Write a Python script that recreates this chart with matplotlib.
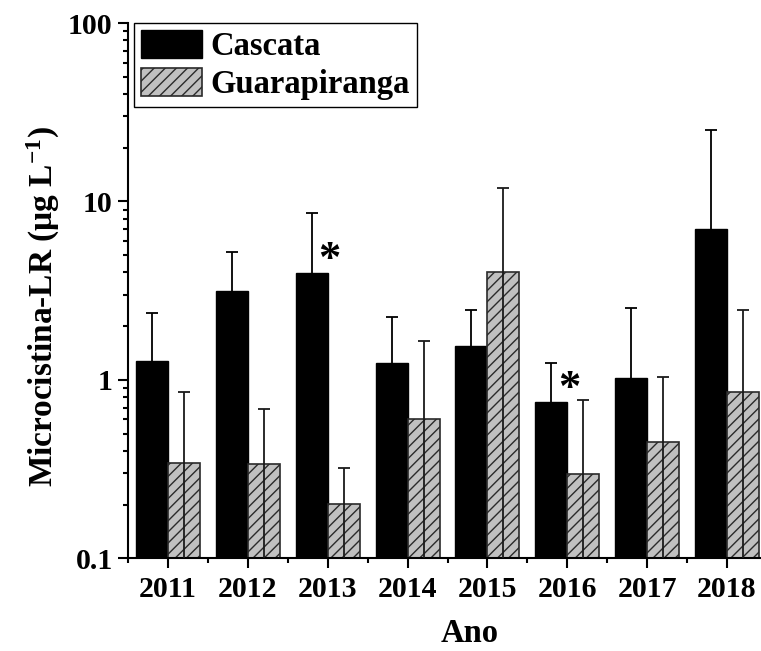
import numpy as np
import matplotlib
matplotlib.use('Agg')
import matplotlib.pyplot as plt
from matplotlib.ticker import LogLocator, FixedLocator, NullFormatter

plt.rcParams['font.family'] = ['Liberation Serif', 'DejaVu Serif']
plt.rcParams['font.weight'] = 'bold'
plt.rcParams['mathtext.default'] = 'regular'
plt.rcParams['hatch.linewidth'] = 1.0

years = [2011, 2012, 2013, 2014, 2015, 2016, 2017, 2018]
cascata = [1.27, 3.16, 3.97, 1.24, 1.55, 0.755, 1.02, 6.98]
cascata_top = [2.36, 5.23, 8.65, 2.26, 2.46, 1.24, 2.54, 25.2]
guara = [0.342, 0.336, 0.201, 0.60, 4.03, 0.298, 0.45, 0.86]
guara_top = [0.85, 0.687, 0.321, 1.66, 11.86, 0.774, 1.034, 2.475]
marked_years = [2013, 2016]

x = np.array(years, dtype=float)
cascata = np.array(cascata)
guara = np.array(guara)
# symmetric SD; lower end floored so it stays on the log axis (below 0.1 is clipped)
c_sd = np.array(cascata_top) - cascata
g_sd = np.array(guara_top) - guara
c_low = cascata - np.maximum(cascata - c_sd, 0.01)
g_low = guara - np.maximum(guara - g_sd, 0.01)

W, H = 761, 651
fig = plt.figure(figsize=(W / 100, H / 100), dpi=100)
ax = fig.add_axes([128 / W, (H - 558.3) / H, 639 / W, 535.3 / H])

w = 0.4
ax.bar(x - w / 2, cascata, w, color='black', edgecolor='black', linewidth=1.0,
       label='Cascata', zorder=2)
ax.bar(x + w / 2, guara, w, color='#c0c0c0', edgecolor='#2a2a2a', linewidth=1.2,
       hatch='///', label='Guarapiranga', zorder=2)
ax.errorbar(x - w / 2, cascata, yerr=[c_low, c_sd], fmt='none', ecolor='black',
            elinewidth=1.3, capsize=4, capthick=1.3, zorder=3)
ax.errorbar(x + w / 2, guara, yerr=[g_low, g_sd], fmt='none', ecolor='#1a1a1a',
            elinewidth=1.3, capsize=4, capthick=1.3, zorder=3)

for yr in marked_years:
    i = years.index(yr)
    ax.text(yr + 0.02, cascata[i] * 1.18, '*', ha='center', va='center',
            fontsize=32, fontweight='bold')

ax.set_yscale('log')
ax.set_ylim(0.1, 100)
ax.set_xlim(2010.5, 2018.5)
ax.yaxis.set_major_locator(FixedLocator([0.1, 1, 10, 100]))
ax.set_yticklabels(['0.1', '1', '10', '100'])
ax.yaxis.set_minor_locator(LogLocator(base=10, subs=np.arange(2, 10)))
ax.yaxis.set_minor_formatter(NullFormatter())
ax.set_xticks(years)
ax.set_xticklabels([str(y) for y in years])
ax.xaxis.set_minor_locator(FixedLocator(np.arange(2010.5, 2019, 1.0)))

for s in ['top', 'right']:
    ax.spines[s].set_visible(False)
for s in ['left', 'bottom']:
    ax.spines[s].set_linewidth(1.5)
ax.tick_params(which='major', length=7, width=1.5, labelsize=21.5, pad=4)
ax.tick_params(which='minor', length=3.5, width=1.5)
ax.tick_params(axis='x', which='major', pad=6)

ax.set_ylabel('Microcistina-LR (μg L$^{-1}$)', fontsize=24, fontweight='bold')
ax.yaxis.set_label_coords(-0.103, 0.47)
ax.set_xlabel('Ano', fontsize=23.5, fontweight='bold')
ax.xaxis.set_label_coords((470 - 128) / 639, -0.112)

leg = ax.legend(loc='upper left', bbox_to_anchor=(0.0094, 1.0), borderaxespad=0,
                fontsize=23.5, frameon=True, fancybox=False, edgecolor='black',
                framealpha=1, handlelength=1.87, handleheight=0.92,
                handletextpad=0.25, borderpad=0.22, labelspacing=0.18)
leg.get_frame().set_linewidth(1.0)

fig.savefig('out.png', dpi=100)
